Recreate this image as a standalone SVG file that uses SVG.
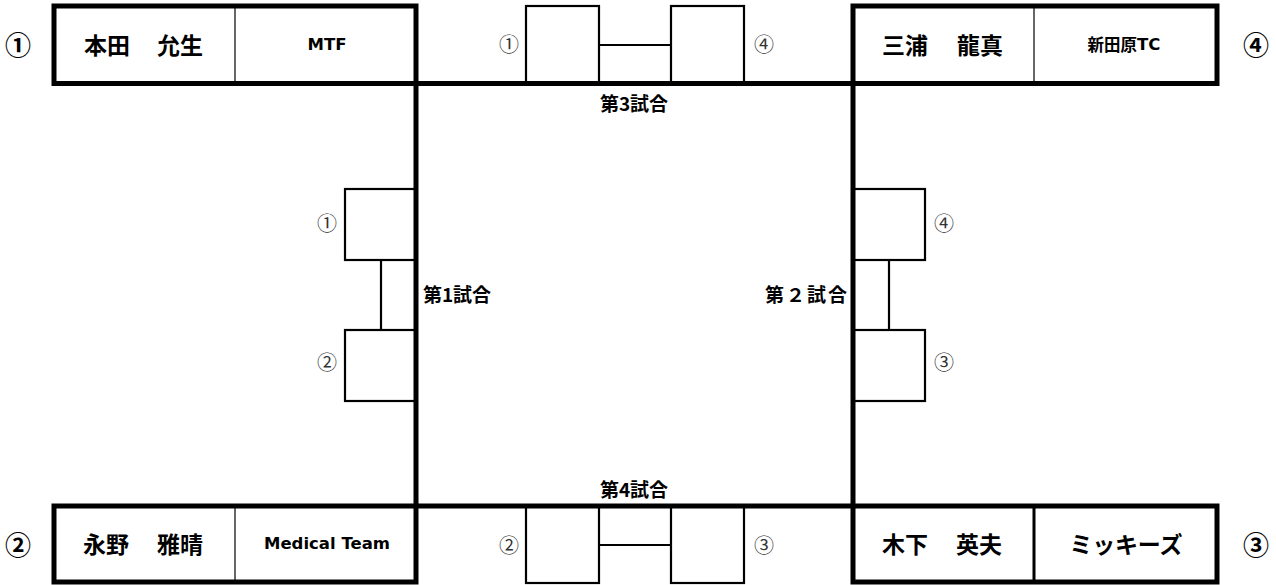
<svg xmlns="http://www.w3.org/2000/svg" width="1276" height="585" viewBox="0 0 1276 585">
<style>
.thick{fill:none;stroke:#000;stroke-width:5}
.thin{fill:none;stroke:#000;stroke-width:1.2}
.sb{fill:none;stroke:#000;stroke-width:2.2}
text{font-family:"Noto Sans CJK JP","Noto Sans",sans-serif;fill:#000;dominant-baseline:central}
.name{font-size:23px;font-weight:bold}
.team{font-size:16.5px;font-weight:bold;text-anchor:middle}
.lat{font-family:"DejaVu Sans","Noto Sans CJK JP",sans-serif}
.big{font-size:26px;font-weight:bold;text-anchor:middle}
.small{font-size:20px;fill:#333;text-anchor:middle}
.match{font-size:19px;font-weight:bold;text-anchor:middle}
</style>
<rect width="1276" height="585" fill="#fff"/>
<g id="player1">
<rect class="thick" x="54" y="6" width="362" height="77.5"/>
<line class="thin" x1="235" y1="6" x2="235" y2="83"/>
<text class="name" y="44"><tspan x="84">本田</tspan><tspan x="157">允生</tspan></text>
<text class="team lat" x="327" y="44">MTF</text>
<text class="big" x="18" y="43">①</text>
</g>
<g id="player4">
<rect class="thick" x="853" y="6" width="364" height="77.5"/>
<line class="thin" x1="1034" y1="6" x2="1034" y2="83"/>
<text class="name" y="44"><tspan x="882">三浦</tspan><tspan x="957">龍真</tspan></text>
<text class="team" x="1124" y="44" font-size="17">新田原<tspan class="lat" font-size="16.5">TC</tspan></text>
<text class="big" x="1256" y="43">④</text>
</g>
<g id="player2">
<rect class="thick" x="54" y="506" width="362" height="76"/>
<line class="thin" x1="235" y1="506" x2="235" y2="582"/>
<text class="name" y="543"><tspan x="83">永野</tspan><tspan x="157">雅晴</tspan></text>
<text class="team lat" x="327" y="543">Medical Team</text>
<text class="big" x="18" y="543">②</text>
</g>
<g id="player3">
<rect class="thick" x="853" y="506" width="364" height="76"/>
<line x1="1034" y1="506" x2="1034" y2="582" stroke="#000" stroke-width="3"/>
<text class="name" y="543"><tspan x="882">木下</tspan><tspan x="956">英夫</tspan></text>
<text class="name" x="1126" y="543" text-anchor="middle" textLength="113" lengthAdjust="spacing">ミッキーズ</text>
<text class="big" x="1256" y="543">③</text>
</g>
<g id="court">
<rect class="thick" x="416" y="83.5" width="437" height="422.5"/>
</g>
<g id="match3">
<rect class="sb" x="526" y="6" width="73" height="77"/>
<rect class="sb" x="671" y="6" width="73" height="77"/>
<text class="small" x="509" y="43">①</text>
<text class="small" x="764" y="43">④</text>
<text class="match" x="634" y="102">第3試合</text>
</g>
<g id="match4">
<rect class="sb" x="526" y="506" width="73" height="77"/>
<rect class="sb" x="671" y="506" width="73" height="77"/>
<text class="small" x="509" y="544">②</text>
<text class="small" x="764" y="544">③</text>
<text class="match" x="634" y="488">第4試合</text>
</g>
<g id="match1">
<rect class="sb" x="345" y="189" width="71" height="71"/>
<rect class="sb" x="345" y="330" width="71" height="71"/>
<text class="small" x="327" y="222">①</text>
<text class="small" x="327" y="361">②</text>
<text class="match" x="457" y="293">第1試合</text>
</g>
<g id="match2">
<rect class="sb" x="853" y="189" width="72" height="71"/>
<rect class="sb" x="853" y="330" width="72" height="71"/>
<text class="small" x="944" y="222">④</text>
<text class="small" x="944" y="361">③</text>
<text class="match" x="806" y="293" textLength="82" lengthAdjust="spacing">第２試合</text>
</g>
<g id="connectors">
<line class="sb" x1="599" y1="45" x2="671" y2="45"/>
<line class="sb" x1="599" y1="545" x2="671" y2="545"/>
<line class="sb" x1="381" y1="260" x2="381" y2="330"/>
<line class="sb" x1="889" y1="260" x2="889" y2="330"/>
</g>
</svg>
